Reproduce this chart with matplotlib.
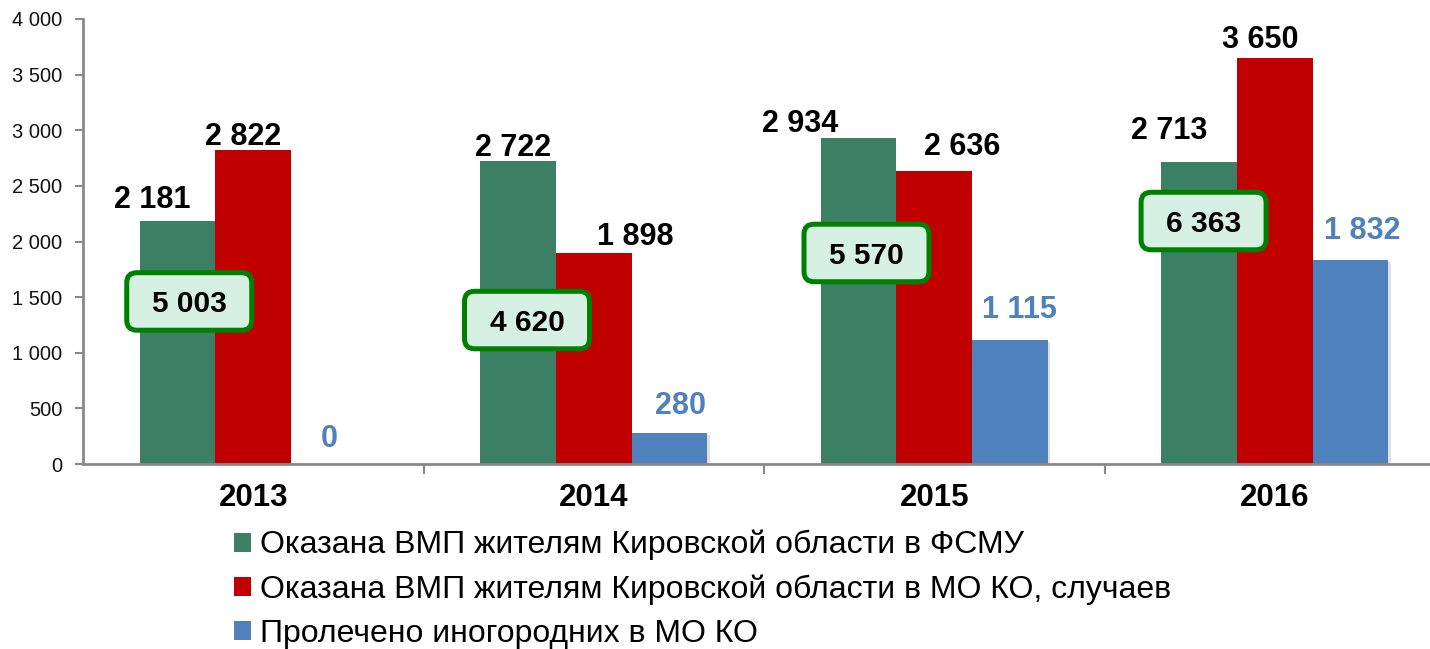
import matplotlib
matplotlib.use("Agg")
import matplotlib.pyplot as plt
import matplotlib.transforms as mtransforms
import matplotlib.patheffects as pe
from matplotlib.patches import FancyBboxPatch, Patch
from matplotlib.ticker import FuncFormatter, FixedLocator
import numpy as np

plt.rcParams['font.family'] = ['Liberation Sans', 'DejaVu Sans']

# ---- data ----
years = ['2013', '2014', '2015', '2016']
fsmu = [2181, 2722, 2934, 2713]
mo_ko = [2822, 1898, 2636, 3650]
inogorod = [0, 280, 1115, 1832]
totals = [5003, 4620, 5570, 6363]
series_names = [
    'Оказана ВМП жителям Кировской области в ФСМУ',
    'Оказана ВМП жителям Кировской области в МО КО, случаев',
    'Пролечено иногородних в МО КО',
]

# ---- styling / placement (pixel offsets of labels relative to bar top centre) ----
colors = ['#3B7F65', '#C00000', '#4F81BD']
label_colors = ['black', 'black', '#4F81BD']
label_offsets = [
    [(-25.5, 24.5), (-5.5, 15.7), (-58.5, 16.7), (-30, 34)],
    [(-10.5, 16.3), (41.5, 19), (27.5, 27), (-14.5, 21)],
    [(0, 28), (11.5, 30), (10, 33), (12, 31.7)],
]
box_dx = [-0.188, -0.196, -0.199, -0.209]
box_y = [1461, 1294, 1897, 2184]

W, H = 1430, 649
fig = plt.figure(figsize=(W / 100, H / 100), dpi=100)
ax = fig.add_axes([83 / W, (H - 464) / H, 1362 / W, 445 / H])

x = np.arange(len(years))
bw = 0.222
series = [fsmu, mo_ko, inogorod]
for k, vals in enumerate(series):
    xs = x + (k - 1) * bw
    bars = ax.bar(xs, vals, width=bw, color=colors[k], zorder=2,
                  edgecolor='none')
    if k == 2:
        for b in bars:
            b.set_path_effects([pe.SimplePatchShadow(offset=(1.8, -1.5), alpha=0.18,
                                                     shadow_rgbFace='#555555'),
                                pe.Normal()])
    for i, v in enumerate(vals):
        dx, dy = label_offsets[k][i]
        ax.annotate(f'{v:,}'.replace(',', ' '), (xs[i], v),
                    xytext=(dx, dy - 11), textcoords='offset pixels',
                    ha='center', va='baseline', fontsize=22, fontweight='bold',
                    color=label_colors[k], zorder=5)

# total boxes
for i, t in enumerate(totals):
    cx, cy = x[i] + box_dx[i], box_y[i]
    trans = fig.dpi_scale_trans + mtransforms.ScaledTranslation(cx, cy, ax.transData)
    bw_in, bh_in = 1.25, 0.575
    box = FancyBboxPatch((-bw_in / 2, -bh_in / 2), bw_in, bh_in,
                         boxstyle='round,pad=0,rounding_size=0.1',
                         transform=trans, facecolor='#D6F1E4', edgecolor='#008000',
                         linewidth=3.6, zorder=6, clip_on=False)
    ax.add_patch(box)
    ax.annotate(f'{t:,}'.replace(',', ' '), (cx, cy), xytext=(0, -11),
                textcoords='offset pixels', ha='center', va='baseline',
                fontsize=21.5, fontweight='bold', color='black', zorder=7)

ax.set_xlim(-0.5, 3.5)
ax.set_ylim(0, 4000)
ax.set_yticks(np.arange(0, 4001, 500))
ax.yaxis.set_major_formatter(FuncFormatter(lambda v, p: f'{int(v):,}'.replace(',', ' ')))
ax.tick_params(axis='y', labelsize=14.5, length=6, width=1.5, color='#898989',
               pad=9, labelcolor='#111111')
ax.set_xticks(x)
ax.set_xticklabels(years, fontsize=22.5, fontweight='bold')
ax.tick_params(axis='x', length=0, pad=13.5)
ax.xaxis.set_minor_locator(FixedLocator([0.5, 1.5, 2.5]))
ax.tick_params(axis='x', which='minor', length=7, width=1.5, color='#898989')

for s in ['top', 'right']:
    ax.spines[s].set_visible(False)
for s in ['left', 'bottom']:
    ax.spines[s].set_color('#898989')
    ax.spines[s].set_linewidth(2)

handles = [Patch(facecolor=c, edgecolor='none') for c in colors]
fig.legend(handles, series_names, loc='upper left',
           bbox_to_anchor=(234 / W, (H - 530) / H), frameon=False,
           fontsize=23, handlelength=0.53, handleheight=0.53,
           handletextpad=0.28, labelspacing=0.44, borderpad=0, borderaxespad=0)

fig.savefig('out.png', dpi=100)
